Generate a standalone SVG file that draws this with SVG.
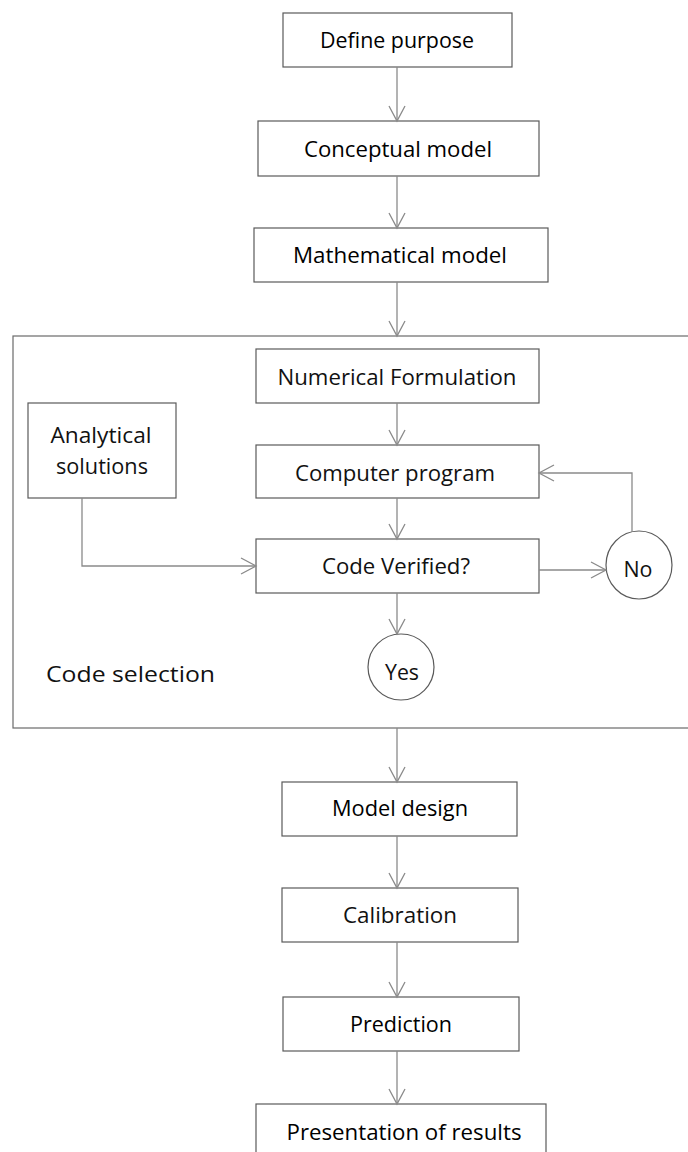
<svg xmlns="http://www.w3.org/2000/svg" width="688" height="1152" viewBox="0 0 688 1152">
<style>
.box{fill:#fff;stroke:#5a5a5a;stroke-width:1.2}
.frame{fill:none;stroke:#6a6a6a;stroke-width:1.2}
.t{font-family:"Open Sans","Liberation Sans",sans-serif;font-size:22px;fill:#111;text-anchor:middle}
.b{font-weight:500;fill:#000}
.c{fill:none;stroke:#8a8a8a;stroke-width:1.3}
</style>
<defs>
<marker id="ah" markerUnits="userSpaceOnUse" markerWidth="18" markerHeight="18" viewBox="0 0 18 18" refX="16" refY="9" orient="auto">
<path d="M1,1 L16,9 L1,17" fill="none" stroke="#8a8a8a" stroke-width="1.3"/>
</marker>
</defs>
<rect width="688" height="1152" fill="#fff"/>
<g id="code-selection">
<rect class="frame" x="13" y="336" width="676" height="392"/>
<text class="t" x="130.5" y="682" textLength="169" lengthAdjust="spacingAndGlyphs">Code selection</text>
</g>
<g id="define-purpose"><rect class="box" x="283" y="13" width="229" height="54"/><text class="t b" x="397" y="48" textLength="154" lengthAdjust="spacingAndGlyphs">Define purpose</text></g>
<g id="conceptual-model"><rect class="box" x="258" y="121" width="281" height="55"/><text class="t b" x="398" y="157" textLength="188" lengthAdjust="spacingAndGlyphs">Conceptual model</text></g>
<g id="mathematical-model"><rect class="box" x="254" y="228" width="294" height="54"/><text class="t b" x="400" y="263" textLength="214" lengthAdjust="spacingAndGlyphs">Mathematical model</text></g>
<g id="numerical-formulation"><rect class="box" x="256" y="349" width="283" height="54"/><text class="t" x="397" y="385" textLength="239" lengthAdjust="spacingAndGlyphs">Numerical Formulation</text></g>
<g id="analytical-solutions"><rect class="box" x="28" y="403" width="148" height="95"/><text class="t" x="101" y="443" textLength="101" lengthAdjust="spacingAndGlyphs">Analytical</text><text class="t" x="102" y="474" textLength="92" lengthAdjust="spacingAndGlyphs">solutions</text></g>
<g id="computer-program"><rect class="box" x="256" y="445" width="283" height="53"/><text class="t" x="395" y="481" textLength="200" lengthAdjust="spacingAndGlyphs">Computer program</text></g>
<g id="code-verified"><rect class="box" x="256" y="539" width="283" height="54"/><text class="t" x="396" y="574" textLength="148" lengthAdjust="spacingAndGlyphs">Code Verified?</text></g>
<g id="no"><ellipse class="box" cx="639" cy="565" rx="33" ry="34"/><text class="t" x="638" y="577" textLength="29" lengthAdjust="spacingAndGlyphs">No</text></g>
<g id="yes"><ellipse class="box" cx="401" cy="667" rx="33" ry="33"/><text class="t" x="402" y="680" textLength="34" lengthAdjust="spacingAndGlyphs">Yes</text></g>
<g id="model-design"><rect class="box" x="282" y="782" width="235" height="54"/><text class="t b" x="400" y="816" textLength="136" lengthAdjust="spacingAndGlyphs">Model design</text></g>
<g id="calibration"><rect class="box" x="282" y="888" width="236" height="54"/><text class="t" x="400" y="923" textLength="114" lengthAdjust="spacingAndGlyphs">Calibration</text></g>
<g id="prediction"><rect class="box" x="283" y="997" width="236" height="54"/><text class="t b" x="401" y="1032" textLength="102" lengthAdjust="spacingAndGlyphs">Prediction</text></g>
<g id="presentation"><rect class="box" x="256" y="1104" width="290" height="60"/><text class="t b" x="404" y="1140" textLength="235" lengthAdjust="spacingAndGlyphs">Presentation of results</text></g>
<g id="connectors">
<line class="c" x1="397" y1="67" x2="397" y2="121" marker-end="url(#ah)"/>
<line class="c" x1="397" y1="176" x2="397" y2="228" marker-end="url(#ah)"/>
<line class="c" x1="397" y1="282" x2="397" y2="336" marker-end="url(#ah)"/>
<line class="c" x1="397" y1="403" x2="397" y2="445" marker-end="url(#ah)"/>
<line class="c" x1="397" y1="498" x2="397" y2="539" marker-end="url(#ah)"/>
<polyline class="c" points="82,498 82,566 256,566" marker-end="url(#ah)"/>
<line class="c" x1="539" y1="570" x2="606" y2="570" marker-end="url(#ah)"/>
<polyline class="c" points="632,532 632,473 539,473" marker-end="url(#ah)"/>
<line class="c" x1="397" y1="593" x2="397" y2="634" marker-end="url(#ah)"/>
<line class="c" x1="397" y1="728" x2="397" y2="782" marker-end="url(#ah)"/>
<line class="c" x1="397" y1="836" x2="397" y2="888" marker-end="url(#ah)"/>
<line class="c" x1="397" y1="942" x2="397" y2="997" marker-end="url(#ah)"/>
<line class="c" x1="397" y1="1051" x2="397" y2="1104" marker-end="url(#ah)"/>
</g>
</svg>
